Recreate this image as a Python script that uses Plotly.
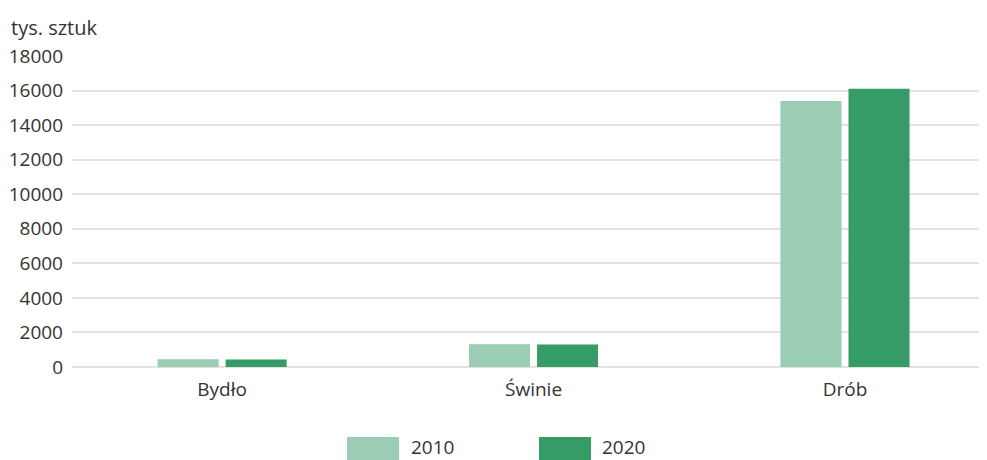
import plotly.graph_objects as go

# data
categories = ["Bydło", "Świnie", "Drób"]
years = ["2010", "2020"]
values_2010 = [450, 1310, 15400]
values_2020 = [440, 1300, 16100]
y_ticks = [0, 2000, 4000, 6000, 8000, 10000, 12000, 14000, 16000, 18000]

COLORS = {"2010": "#9ACDB3", "2020": "#359C67"}
TEXT = "#333333"
FONT = "Open Sans"

# page body has an 8px margin, so the figure is drawn 8px smaller and
# all pixel positions below are window positions minus 8
OFF = 8
W, H = 987 - OFF, 460 - OFF
L, R, T, B = 72 - OFF, 0, 56 - OFF, 460 - 367
plot_w = W - L - R
plot_h = H - T - B


def px_x(x):
    return (x - OFF - L) / plot_w


def px_y(y):
    return (H - B - (y - OFF)) / plot_h


fig = go.Figure()
for year, vals in zip(years, [values_2010, values_2020]):
    fig.add_trace(go.Bar(x=list(range(len(categories))), y=vals, name=year,
                         marker=dict(color=COLORS[year], line=dict(width=0)),
                         showlegend=False))

# hand-drawn legend: wide swatches like the original
shapes, annotations = [], []
for year, (x0, x1, tx) in zip(years, [(347, 399, 409), (539, 591, 600)]):
    shapes.append(dict(type="rect", xref="paper", yref="paper",
                       x0=px_x(x0), x1=px_x(x1), y0=px_y(437), y1=px_y(462),
                       fillcolor=COLORS[year], line=dict(width=0), layer="above"))
    annotations.append(dict(text=year, xref="paper", yref="paper", x=px_x(tx), y=px_y(447),
                            xanchor="left", yanchor="middle", showarrow=False,
                            font=dict(size=19, color=TEXT, family=FONT)))

annotations.append(dict(text="tys. sztuk", xref="paper", yref="paper", x=px_x(9), y=px_y(27),
                        xanchor="left", yanchor="middle", showarrow=False,
                        font=dict(size=20, color=TEXT, family=FONT)))

fig.update_layout(
    width=W, height=H, margin=dict(l=L, r=R, t=T, b=B),
    paper_bgcolor="white", plot_bgcolor="white",
    font=dict(family=FONT, size=19, color=TEXT),
    barmode="group", bargap=0.563, bargroupgap=0.103,
    xaxis=dict(tickmode="array", tickvals=list(range(len(categories))), ticktext=categories,
               range=[-0.482, 2.456], showgrid=False, zeroline=False, showline=False,
               ticks="", ticklabelstandoff=9),
    yaxis=dict(range=[0, 18000], tickvals=y_ticks, showgrid=True, gridcolor="#E2E2E2",
               gridwidth=1.5, zeroline=True, zerolinecolor="#E2E2E2", zerolinewidth=1.5,
               ticks="", ticklabelstandoff=8, tickformat="d"),
    shapes=shapes, annotations=annotations,
)

fig.write_html("out.html")
